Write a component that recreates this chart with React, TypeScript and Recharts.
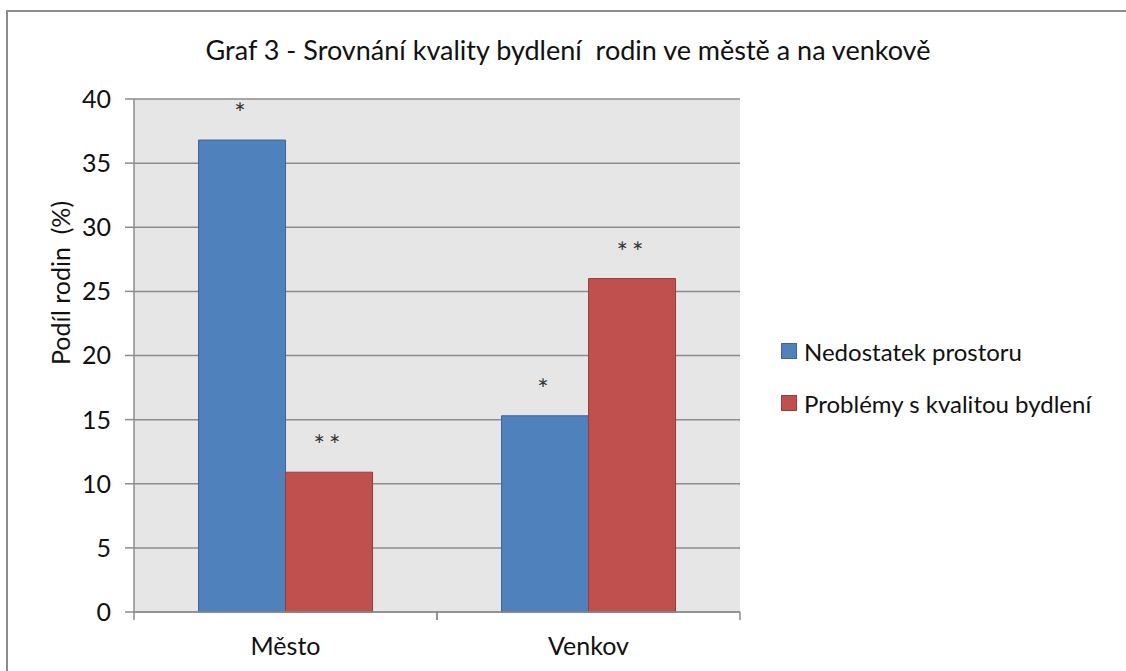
import React from "react";
import { BarChart, Bar, XAxis, YAxis, CartesianGrid, LabelList } from "recharts";

const categories = ["Město", "Venkov"];
const nedostatekProstoru = [36.8, 15.3];
const problemyKvalita = [10.9, 26.0];
const nedostatekMarks = ["*", "*"];
const problemyMarks = ["**", "**"];
const yTicks = [0, 5, 10, 15, 20, 25, 30, 35, 40];

const seriesNames = ["Nedostatek prostoru", "Problémy s kvalitou bydlení"];
const seriesColors = ["#4F81BD", "#C0504D"];
const seriesStrokes = ["#3B679C", "#9A3C39"];

const data = categories.map((c, i) => ({
  name: c,
  a: nedostatekProstoru[i],
  b: problemyKvalita[i],
  aMark: nedostatekMarks[i],
  bMark: problemyMarks[i],
}));

const FONT = "Lato, 'Open Sans', sans-serif";

const XTick = (props: any) => {
  const { x, y, payload } = props;
  const off = payload && payload.offset ? payload.offset : 0;
  return (
    <g>
      <line x1={x - off} x2={x - off} y1={y} y2={y + 8} stroke="#8c8c8c" strokeWidth={1.5} />
      <line x1={x + off} x2={x + off} y1={y} y2={y + 8} stroke="#8c8c8c" strokeWidth={1.5} />
      <text x={x} y={y + 43} textAnchor="middle" fontSize={25} fontFamily={FONT} fill="#111">
        {payload.value}
      </text>
    </g>
  );
};

const markLabel = (props: any) => {
  const { x, y, width, value } = props;
  return (
    <text
      x={x + width / 2}
      y={y - 17}
      textAnchor="middle"
      fontSize={27}
      fontFamily={FONT}
      fill="#333"
      letterSpacing={4}
    >
      {value}
    </text>
  );
};

export default function App() {
  return (
    <div style={{ position: "absolute", left: 0, top: 0, width: 1126, height: 671, overflow: "hidden", background: "#fff" }}>
      <div
        style={{
          position: "absolute",
          left: 6,
          top: 10,
          width: 1140,
          height: 700,
          border: "2px solid #8c8c8c",
          boxSizing: "border-box",
        }}
      />
      <svg style={{ position: "absolute", left: 0, top: 0 }} width={1126} height={80}>
        <text x={568} y={60} textAnchor="middle" fontSize={27} fontFamily={FONT} fill="#111" style={{ whiteSpace: "pre" }}>
          Graf 3 - Srovnání kvality bydlení  rodin ve městě a na venkově
        </text>
      </svg>
      <div style={{ position: "absolute", left: 0, top: 0 }}>
        <BarChart
          width={1126}
          height={671}
          data={data}
          margin={{ top: 99, right: 386, bottom: 19, left: 74 }}
          barCategoryGap="21.3%"
          barGap={0}
        >
          <CartesianGrid vertical={false} fill="#e6e6e6" stroke="#8c8c8c" strokeWidth={1.5} />
          <XAxis
            dataKey="name"
            height={40}
            tickSize={0}
            tickMargin={0}
            tickLine={false}
            axisLine={{ stroke: "#8c8c8c", strokeWidth: 1.5 }}
            tick={<XTick />}
            interval={0}
          />
          <YAxis
            width={60}
            domain={[0, 40]}
            ticks={yTicks}
            interval={0}
            tickSize={9}
            tickMargin={14}
            tickLine={{ stroke: "#8c8c8c", strokeWidth: 1.5 }}
            axisLine={{ stroke: "#8c8c8c", strokeWidth: 1.5 }}
            tick={{ fontSize: 25, fontFamily: FONT, fill: "#111" }}
            label={() => (
              <text
                x={70}
                y={283}
                transform="rotate(-90 70 283)"
                textAnchor="middle"
                fontSize={25}
                fontFamily={FONT}
                fill="#111"
                style={{ whiteSpace: "pre" }}
              >
                Podíl rodin  (%)
              </text>
            )}
          />
          <Bar dataKey="a" name={seriesNames[0]} fill={seriesColors[0]} stroke={seriesStrokes[0]} strokeWidth={1} isAnimationActive={false}>
            <LabelList dataKey="aMark" content={markLabel} />
          </Bar>
          <Bar dataKey="b" name={seriesNames[1]} fill={seriesColors[1]} stroke={seriesStrokes[1]} strokeWidth={1} isAnimationActive={false}>
            <LabelList dataKey="bMark" content={markLabel} />
          </Bar>
        </BarChart>
      </div>
      <div style={{ position: "absolute", left: 781, top: 325, fontFamily: FONT, fontSize: 24, color: "#111" }}>
        {seriesNames.map((n, i) => (
          <div key={n} style={{ display: "flex", alignItems: "center", height: 52, whiteSpace: "nowrap" }}>
            <span
              style={{
                display: "inline-block",
                width: 14,
                height: 14,
                background: seriesColors[i],
                border: `1px solid ${seriesStrokes[i]}`,
                marginRight: 7,
              }}
            />
            <span>{n}</span>
          </div>
        ))}
      </div>
    </div>
  );
}
